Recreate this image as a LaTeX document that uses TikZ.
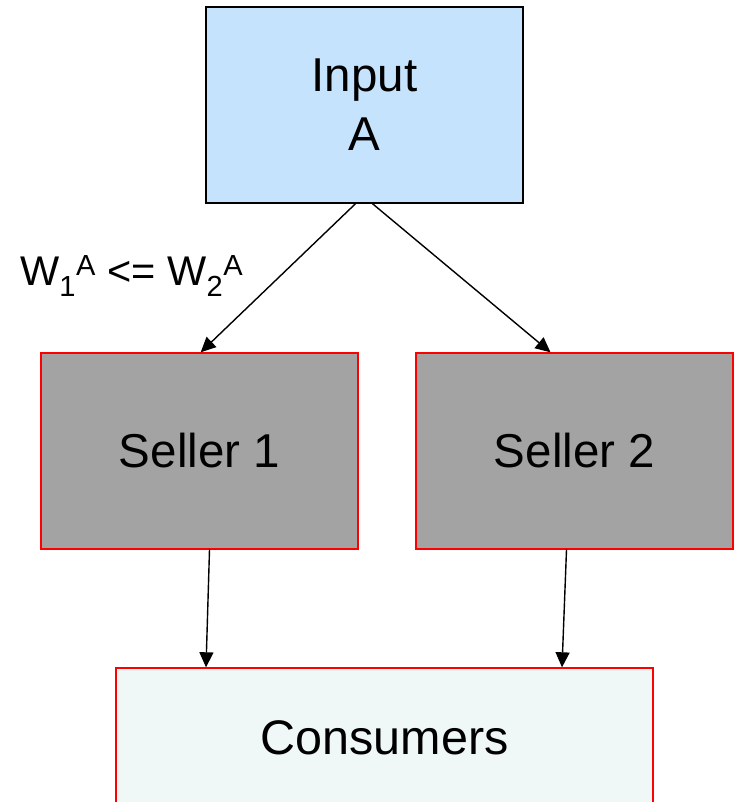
\documentclass[tikz,border=0pt]{standalone}
\usepackage{fontspec}
\setmainfont{Liberation Sans}
\usetikzlibrary{arrows.meta}
\definecolor{inputblue}{HTML}{C5E3FD}
\definecolor{sellergray}{HTML}{A3A3A3}
\definecolor{consumerbg}{HTML}{EFF7F7}
\definecolor{boxred}{HTML}{FF0000}
\tikzset{
  box/.style={rectangle, draw, line width=1.4pt, inner sep=0pt, align=center,
    font=\fontsize{47.5}{59}\selectfont},
  flow/.style={draw=black, line width=1.4pt, -{Triangle[length=15pt,width=14pt]}}
}
\begin{document}
\begin{tikzpicture}[x=1pt,y=-1pt]
  \useasboundingbox (0,0) rectangle (734,802);
  \clip (0,0) rectangle (734,802);
  % supplier of the input
  \node[box, fill=inputblue, draw=black, minimum width=317pt, minimum height=196pt]
    (input) at (364.5,105) {Input\\A};
  % the two sellers
  \node[box, fill=sellergray, draw=boxred, minimum width=317pt, minimum height=196pt]
    (s1) at (199.5,451) {Seller 1};
  \node[box, fill=sellergray, draw=boxred, minimum width=317pt, minimum height=196pt]
    (s2) at (574.5,451) {Seller 2};
  % final market, running off the lower edge
  \node[box, fill=consumerbg, draw=boxred, minimum width=537pt, minimum height=140pt,
    font=\fontsize{48.5}{58}\selectfont]
    (cons) at (384.5,738) {Consumers};
  % price condition on the input
  \node[anchor=base west, inner sep=0pt, font=\fontsize{41.5}{48}\selectfont]
    (price) at (20,285) {W\textsubscript{1}\textsuperscript{A} <= W\textsubscript{2}\textsuperscript{A}};
  % connectors
  \coordinate (i1) at ([xshift=-9pt]input.south);
  \coordinate (i2) at ([xshift=8pt]input.south);
  \draw[flow] (i1) -- ([xshift=-158pt]s1.north east |- s1.north);
  \draw[flow] (i2) -- ([xshift=-24pt]s2.north -| s2.north);
  \draw[flow] ([xshift=10pt]s1.south) -- (cons.north west -| 206,0);
  \draw[flow] ([xshift=-8pt]s2.south) -- (cons.north west -| 562,0);
\end{tikzpicture}
\end{document}
